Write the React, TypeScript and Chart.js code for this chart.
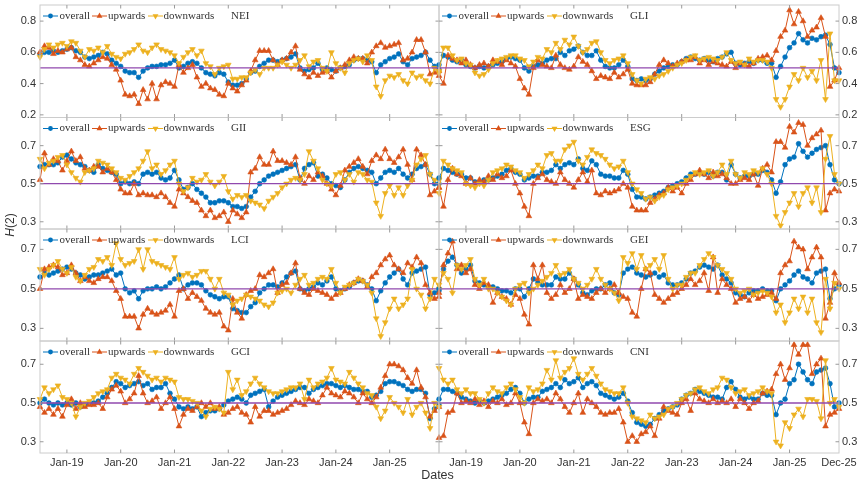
import React, { useEffect, useRef } from 'react';
import { Chart, registerables } from 'chart.js';

Chart.register(...registerables);

// ---------- categories (monthly, Jul-18 .. Dec-25) ----------
const MONTH_NAMES = ['Jan', 'Feb', 'Mar', 'Apr', 'May', 'Jun', 'Jul', 'Aug', 'Sep', 'Oct', 'Nov', 'Dec'];
const FIRST_YEAR = 2018;
const FIRST_MONTH = 6;
const N_MONTHS = 90;
const months: string[] = Array.from({ length: N_MONTHS }, (_, i) => {
  const k = FIRST_MONTH + i;
  return `${MONTH_NAMES[k % 12]}-${String(FIRST_YEAR + Math.floor(k / 12)).slice(2)}`;
});

const REF_LEVEL = 0.5;
const Y_TICKS_TOP = [0.2, 0.4, 0.6, 0.8];
const Y_TICKS_OTHER = [0.3, 0.5, 0.7];
const ROW_YMIN = [0.183, 0.262, 0.236, 0.242];
const ROW_YMAX = [0.903, 0.848, 0.803, 0.82];

// ---------- series ----------
const neiOverall = [0.59,0.60,0.60,0.61,0.60,0.61, 0.62,0.63,0.61,0.60,0.57,0.56, 0.57,0.58,0.60,0.59,0.55,0.53, 0.51,0.48,0.47,0.47,0.44,0.48, 0.50,0.51,0.51,0.52,0.52,0.53, 0.55,0.50,0.51,0.53,0.54,0.53, 0.50,0.47,0.46,0.45,0.47,0.46, 0.41,0.39,0.39,0.40,0.43,0.47, 0.48,0.51,0.53,0.55,0.55,0.54, 0.55,0.56,0.57,0.59,0.50,0.48, 0.49,0.50,0.53,0.49,0.50,0.49, 0.48,0.50,0.51,0.52,0.55,0.56, 0.56,0.55,0.54,0.47,0.52,0.54, 0.56,0.57,0.59,0.54,0.52,0.56, 0.57,0.58,0.60,0.55,0.51,0.49];
const neiUp = [0.60,0.64,0.63,0.59,0.61,0.60, 0.62,0.63,0.57,0.55,0.52,0.51, 0.53,0.55,0.57,0.56,0.52,0.49, 0.42,0.33,0.32,0.33,0.27,0.36, 0.30,0.40,0.30,0.39,0.41,0.40, 0.38,0.52,0.47,0.50,0.52,0.44, 0.38,0.40,0.37,0.36,0.33,0.32, 0.40,0.37,0.35,0.39,0.42,0.48, 0.55,0.61,0.61,0.61,0.55,0.52, 0.55,0.56,0.60,0.64,0.49,0.46, 0.44,0.47,0.45,0.47,0.48,0.44, 0.48,0.50,0.52,0.55,0.57,0.56, 0.56,0.53,0.60,0.64,0.66,0.63, 0.64,0.65,0.66,0.55,0.56,0.60, 0.68,0.68,0.60,0.46,0.47,0.48];
const neiDown = [0.57,0.62,0.65,0.63,0.65,0.66, 0.64,0.67,0.66,0.61,0.57,0.62, 0.61,0.63,0.60,0.64,0.59,0.57, 0.56,0.59,0.60,0.62,0.65,0.61, 0.60,0.63,0.65,0.62,0.61,0.60, 0.58,0.53,0.57,0.60,0.62,0.58, 0.61,0.53,0.51,0.46,0.50,0.51, 0.52,0.43,0.43,0.44,0.44,0.47, 0.49,0.46,0.50,0.50,0.50,0.52, 0.54,0.52,0.50,0.52,0.55,0.58, 0.51,0.54,0.55,0.50,0.48,0.60, 0.53,0.50,0.47,0.53,0.55,0.56, 0.54,0.58,0.55,0.38,0.32,0.42, 0.45,0.44,0.46,0.42,0.40,0.47, 0.44,0.45,0.42,0.40,0.50,0.48];

const gliOverall = [0.52,0.58,0.57,0.55,0.54,0.55, 0.52,0.51,0.50,0.51,0.50,0.51, 0.52,0.53,0.54,0.56,0.57,0.56, 0.55,0.50,0.48,0.51,0.52,0.53, 0.55,0.56,0.56,0.60,0.58,0.61, 0.62,0.64,0.60,0.58,0.58,0.61, 0.55,0.51,0.50,0.50,0.52,0.55, 0.51,0.43,0.42,0.43,0.42,0.43, 0.46,0.48,0.50,0.51,0.52,0.52, 0.54,0.56,0.57,0.56,0.55,0.56, 0.55,0.54,0.56,0.57,0.59,0.60, 0.53,0.52,0.53,0.54,0.53,0.55, 0.55,0.53,0.53,0.44,0.51,0.57, 0.63,0.66,0.72,0.68,0.66,0.69, 0.68,0.70,0.71,0.65,0.50,0.47];
const gliUp = [0.45,0.40,0.58,0.56,0.55,0.53, 0.55,0.52,0.50,0.52,0.53,0.51, 0.55,0.54,0.52,0.55,0.53,0.51, 0.43,0.37,0.33,0.50,0.55,0.52, 0.51,0.50,0.58,0.52,0.50,0.49, 0.51,0.57,0.54,0.52,0.48,0.43, 0.45,0.44,0.43,0.47,0.44,0.46, 0.49,0.40,0.39,0.39,0.39,0.41, 0.46,0.52,0.55,0.53,0.51,0.53, 0.54,0.55,0.55,0.57,0.53,0.55, 0.52,0.54,0.53,0.52,0.51,0.54, 0.50,0.53,0.52,0.51,0.53,0.56, 0.57,0.58,0.55,0.61,0.70,0.74, 0.87,0.78,0.86,0.80,0.70,0.74, 0.76,0.82,0.70,0.38,0.42,0.50];
const gliDown = [0.47,0.63,0.63,0.58,0.55,0.56, 0.53,0.52,0.47,0.45,0.46,0.49, 0.53,0.55,0.56,0.57,0.58,0.58, 0.56,0.55,0.51,0.54,0.57,0.56, 0.62,0.60,0.66,0.62,0.68,0.65, 0.70,0.64,0.60,0.62,0.66,0.67, 0.60,0.55,0.53,0.55,0.56,0.58, 0.53,0.46,0.42,0.40,0.43,0.44, 0.43,0.45,0.46,0.48,0.50,0.52, 0.53,0.55,0.57,0.58,0.55,0.56, 0.57,0.56,0.55,0.57,0.60,0.55, 0.53,0.54,0.52,0.56,0.54,0.55, 0.55,0.54,0.50,0.30,0.25,0.30, 0.38,0.46,0.42,0.50,0.44,0.48, 0.42,0.55,0.30,0.72,0.42,0.42];

const giiOverall = [0.59,0.60,0.60,0.60,0.61,0.64, 0.65,0.63,0.61,0.60,0.59,0.57, 0.56,0.60,0.58,0.57,0.56,0.55, 0.50,0.51,0.50,0.51,0.50,0.55, 0.56,0.55,0.56,0.53,0.52,0.53, 0.57,0.52,0.47,0.48,0.50,0.47, 0.45,0.43,0.40,0.40,0.41,0.41, 0.40,0.38,0.38,0.37,0.38,0.43, 0.46,0.50,0.52,0.54,0.55,0.56, 0.57,0.58,0.59,0.60,0.52,0.58, 0.60,0.61,0.54,0.55,0.53,0.50, 0.49,0.48,0.52,0.56,0.58,0.59, 0.58,0.57,0.56,0.50,0.53,0.56, 0.57,0.56,0.58,0.55,0.53,0.55, 0.58,0.59,0.60,0.55,0.50,0.50];
const giiUp = [0.52,0.66,0.60,0.63,0.62,0.57, 0.62,0.67,0.62,0.64,0.58,0.57, 0.59,0.59,0.56,0.58,0.56,0.52, 0.47,0.45,0.45,0.50,0.44,0.45, 0.44,0.44,0.43,0.45,0.43,0.40, 0.38,0.47,0.45,0.43,0.41,0.40, 0.36,0.33,0.36,0.32,0.33,0.35, 0.30,0.36,0.34,0.32,0.35,0.56, 0.58,0.64,0.60,0.60,0.67,0.62, 0.62,0.61,0.60,0.64,0.53,0.50, 0.54,0.52,0.56,0.54,0.50,0.47, 0.44,0.49,0.57,0.59,0.61,0.63, 0.59,0.55,0.62,0.65,0.63,0.68, 0.63,0.61,0.64,0.68,0.60,0.52, 0.68,0.65,0.60,0.44,0.46,0.48];
const giiDown = [0.63,0.58,0.61,0.62,0.64,0.65, 0.60,0.56,0.53,0.51,0.56,0.57, 0.58,0.62,0.61,0.60,0.58,0.56, 0.53,0.52,0.54,0.56,0.58,0.62, 0.67,0.58,0.60,0.55,0.57,0.60, 0.62,0.50,0.46,0.48,0.53,0.51, 0.52,0.55,0.51,0.49,0.51,0.54, 0.46,0.42,0.44,0.43,0.44,0.41, 0.40,0.39,0.37,0.41,0.43,0.45, 0.48,0.50,0.52,0.53,0.52,0.55, 0.67,0.62,0.58,0.52,0.50,0.49, 0.55,0.56,0.52,0.55,0.51,0.56, 0.55,0.52,0.51,0.40,0.33,0.45, 0.49,0.44,0.48,0.44,0.49,0.52, 0.60,0.63,0.65,0.55,0.52,0.52];

const esgOverall = [0.53,0.58,0.57,0.56,0.55,0.55, 0.53,0.53,0.51,0.51,0.52,0.52, 0.53,0.54,0.55,0.57,0.58,0.56, 0.55,0.52,0.53,0.54,0.54,0.56, 0.56,0.57,0.60,0.58,0.60,0.61, 0.60,0.63,0.58,0.57,0.62,0.60, 0.55,0.54,0.54,0.53,0.53,0.57, 0.55,0.47,0.43,0.43,0.42,0.43, 0.44,0.45,0.46,0.48,0.49,0.50, 0.51,0.53,0.55,0.55,0.56,0.55, 0.56,0.54,0.56,0.56,0.52,0.60, 0.55,0.53,0.54,0.54,0.55,0.55, 0.57,0.56,0.52,0.45,0.51,0.60, 0.63,0.64,0.71,0.67,0.64,0.66, 0.68,0.69,0.70,0.60,0.52,0.50];
const esgUp = [0.48,0.38,0.52,0.58,0.55,0.54, 0.50,0.53,0.50,0.52,0.51,0.54, 0.52,0.55,0.53,0.54,0.57,0.50, 0.45,0.38,0.33,0.50,0.53,0.55, 0.52,0.51,0.50,0.56,0.52,0.50, 0.48,0.52,0.56,0.51,0.57,0.45, 0.44,0.46,0.45,0.46,0.47,0.50, 0.48,0.38,0.36,0.36,0.36,0.40, 0.42,0.44,0.45,0.48,0.46,0.48, 0.45,0.50,0.52,0.55,0.57,0.55, 0.53,0.56,0.54,0.55,0.53,0.50, 0.50,0.52,0.53,0.52,0.55,0.49, 0.58,0.60,0.56,0.72,0.72,0.69, 0.80,0.77,0.82,0.81,0.70,0.74, 0.76,0.78,0.36,0.45,0.47,0.46];
const esgDown = [0.45,0.62,0.60,0.58,0.57,0.56, 0.50,0.49,0.48,0.50,0.49,0.52, 0.56,0.57,0.58,0.60,0.59,0.57, 0.56,0.53,0.55,0.57,0.60,0.58, 0.65,0.66,0.62,0.62,0.68,0.70, 0.72,0.62,0.60,0.64,0.68,0.66, 0.65,0.63,0.60,0.58,0.59,0.62, 0.56,0.50,0.47,0.45,0.42,0.43, 0.41,0.43,0.44,0.47,0.48,0.49, 0.50,0.52,0.54,0.56,0.55,0.56, 0.57,0.54,0.56,0.60,0.55,0.62, 0.55,0.53,0.56,0.55,0.57,0.56, 0.58,0.55,0.50,0.33,0.28,0.35, 0.40,0.45,0.38,0.45,0.48,0.40, 0.48,0.35,0.63,0.75,0.55,0.50];

const lciOverall = [0.56,0.58,0.57,0.58,0.59,0.60, 0.61,0.60,0.58,0.57,0.55,0.56, 0.57,0.57,0.58,0.59,0.60,0.57, 0.58,0.50,0.48,0.49,0.45,0.49, 0.50,0.50,0.51,0.50,0.51,0.53, 0.55,0.57,0.50,0.52,0.53,0.53, 0.52,0.49,0.47,0.46,0.45,0.46, 0.46,0.40,0.39,0.38,0.38,0.41, 0.43,0.48,0.50,0.52,0.52,0.51, 0.53,0.56,0.58,0.59,0.50,0.49, 0.50,0.51,0.53,0.52,0.54,0.56, 0.50,0.49,0.50,0.51,0.53,0.54, 0.54,0.52,0.50,0.44,0.49,0.53, 0.56,0.58,0.60,0.55,0.52,0.58, 0.59,0.60,0.61,0.47,0.48,0.49];
const lciUp = [0.50,0.60,0.61,0.62,0.61,0.57, 0.58,0.62,0.58,0.54,0.56,0.54, 0.53,0.55,0.56,0.56,0.54,0.49, 0.45,0.36,0.36,0.36,0.30,0.37, 0.40,0.38,0.37,0.38,0.39,0.42, 0.36,0.49,0.50,0.45,0.48,0.46, 0.44,0.40,0.38,0.37,0.38,0.31, 0.29,0.45,0.38,0.35,0.47,0.49, 0.50,0.57,0.56,0.58,0.60,0.48, 0.52,0.53,0.58,0.63,0.50,0.48, 0.47,0.50,0.49,0.48,0.47,0.45, 0.47,0.48,0.50,0.52,0.53,0.55, 0.54,0.51,0.56,0.58,0.62,0.65, 0.67,0.62,0.60,0.58,0.63,0.61, 0.66,0.63,0.52,0.48,0.45,0.46];
const lciDown = [0.60,0.57,0.60,0.62,0.64,0.60, 0.58,0.61,0.56,0.54,0.57,0.60, 0.61,0.65,0.64,0.66,0.62,0.73, 0.65,0.62,0.63,0.64,0.70,0.60, 0.70,0.64,0.63,0.62,0.61,0.60, 0.66,0.55,0.57,0.58,0.56,0.57, 0.59,0.59,0.55,0.50,0.55,0.48, 0.47,0.42,0.44,0.45,0.47,0.46, 0.45,0.44,0.42,0.41,0.43,0.48, 0.49,0.50,0.48,0.52,0.55,0.57, 0.52,0.53,0.55,0.56,0.55,0.60, 0.53,0.48,0.51,0.52,0.53,0.55, 0.54,0.52,0.48,0.35,0.26,0.33, 0.40,0.45,0.40,0.42,0.45,0.60, 0.50,0.47,0.40,0.45,0.55,0.50];

const geiOverall = [0.50,0.60,0.64,0.66,0.62,0.58, 0.60,0.62,0.54,0.53,0.52,0.51, 0.51,0.50,0.49,0.49,0.48,0.50, 0.50,0.46,0.50,0.55,0.53,0.52, 0.52,0.52,0.56,0.55,0.55,0.58, 0.55,0.52,0.48,0.47,0.49,0.50, 0.50,0.52,0.53,0.48,0.47,0.58, 0.60,0.61,0.58,0.57,0.56,0.57, 0.58,0.56,0.57,0.53,0.52,0.52, 0.53,0.55,0.58,0.59,0.61,0.62, 0.61,0.60,0.62,0.57,0.55,0.53, 0.48,0.47,0.46,0.48,0.49,0.49, 0.50,0.49,0.49,0.44,0.50,0.52, 0.54,0.57,0.59,0.56,0.55,0.53, 0.58,0.59,0.60,0.45,0.50,0.52];
const geiUp = [0.48,0.62,0.68,0.74,0.60,0.62, 0.58,0.60,0.52,0.50,0.53,0.52, 0.43,0.48,0.46,0.45,0.42,0.47, 0.45,0.37,0.32,0.62,0.55,0.62, 0.48,0.45,0.47,0.52,0.48,0.50, 0.55,0.45,0.47,0.46,0.45,0.48, 0.50,0.48,0.50,0.52,0.48,0.46, 0.45,0.38,0.36,0.50,0.60,0.58, 0.47,0.45,0.43,0.45,0.47,0.48, 0.50,0.52,0.55,0.52,0.54,0.58, 0.49,0.66,0.48,0.55,0.52,0.50, 0.43,0.45,0.46,0.44,0.47,0.45, 0.46,0.47,0.48,0.45,0.58,0.62, 0.64,0.74,0.71,0.70,0.60,0.66, 0.71,0.66,0.35,0.43,0.58,0.53];
const geiDown = [0.52,0.58,0.55,0.48,0.62,0.60, 0.62,0.65,0.55,0.52,0.55,0.50, 0.50,0.48,0.46,0.44,0.42,0.50, 0.52,0.53,0.48,0.50,0.52,0.54, 0.56,0.58,0.62,0.57,0.58,0.60, 0.55,0.53,0.50,0.52,0.55,0.60, 0.55,0.52,0.50,0.48,0.44,0.66, 0.63,0.68,0.60,0.67,0.60,0.62, 0.65,0.60,0.67,0.55,0.50,0.52, 0.52,0.56,0.58,0.58,0.62,0.65, 0.68,0.66,0.62,0.60,0.58,0.55, 0.50,0.48,0.49,0.50,0.47,0.48, 0.49,0.48,0.46,0.38,0.42,0.33, 0.38,0.45,0.40,0.46,0.38,0.45, 0.33,0.28,0.55,0.40,0.53,0.50];

const gciOverall = [0.50,0.52,0.50,0.49,0.50,0.49, 0.50,0.49,0.50,0.48,0.49,0.50, 0.50,0.51,0.53,0.55,0.58,0.61, 0.60,0.58,0.59,0.60,0.61,0.59, 0.60,0.57,0.58,0.58,0.60,0.55, 0.52,0.48,0.47,0.48,0.47,0.48, 0.43,0.45,0.46,0.46,0.47,0.49, 0.51,0.52,0.53,0.52,0.50,0.54, 0.55,0.56,0.57,0.48,0.51,0.53, 0.54,0.55,0.56,0.57,0.58,0.58, 0.55,0.57,0.58,0.59,0.60,0.60, 0.59,0.58,0.59,0.58,0.57,0.57, 0.56,0.56,0.53,0.54,0.56,0.60, 0.61,0.61,0.60,0.59,0.57,0.56, 0.57,0.57,0.55,0.42,0.47,0.49];
const gciUp = [0.48,0.45,0.47,0.44,0.47,0.43, 0.49,0.52,0.47,0.50,0.48,0.49, 0.49,0.50,0.47,0.53,0.57,0.59, 0.56,0.50,0.52,0.55,0.64,0.55, 0.50,0.51,0.53,0.47,0.50,0.53, 0.47,0.38,0.44,0.47,0.46,0.48, 0.50,0.48,0.50,0.47,0.48,0.44, 0.45,0.47,0.48,0.45,0.44,0.40, 0.48,0.43,0.46,0.46,0.44,0.45, 0.46,0.47,0.49,0.51,0.50,0.49, 0.52,0.51,0.50,0.54,0.58,0.55, 0.54,0.53,0.56,0.55,0.53,0.50, 0.55,0.52,0.50,0.53,0.58,0.64, 0.70,0.70,0.69,0.67,0.63,0.60, 0.67,0.58,0.53,0.43,0.46,0.48];
const gciDown = [0.52,0.58,0.55,0.57,0.59,0.53, 0.52,0.50,0.43,0.48,0.50,0.51, 0.53,0.55,0.56,0.57,0.63,0.65, 0.63,0.62,0.60,0.65,0.68,0.66, 0.64,0.62,0.63,0.61,0.63,0.62, 0.61,0.53,0.52,0.52,0.51,0.50, 0.46,0.43,0.47,0.48,0.47,0.45, 0.66,0.57,0.62,0.54,0.56,0.60, 0.63,0.60,0.58,0.56,0.55,0.55, 0.56,0.57,0.58,0.58,0.60,0.52, 0.62,0.58,0.60,0.61,0.63,0.68, 0.62,0.61,0.60,0.66,0.63,0.60, 0.58,0.55,0.54,0.48,0.42,0.46, 0.53,0.50,0.48,0.45,0.52,0.44, 0.48,0.50,0.45,0.37,0.50,0.48];

const cniOverall = [0.52,0.57,0.57,0.56,0.55,0.53, 0.52,0.51,0.50,0.51,0.50,0.51, 0.52,0.53,0.54,0.55,0.57,0.58, 0.55,0.50,0.52,0.53,0.53,0.56, 0.57,0.58,0.60,0.58,0.62,0.60, 0.61,0.63,0.58,0.60,0.61,0.59, 0.55,0.54,0.53,0.52,0.53,0.55, 0.51,0.45,0.40,0.39,0.38,0.39, 0.42,0.44,0.46,0.47,0.48,0.49, 0.52,0.54,0.55,0.57,0.56,0.55, 0.54,0.53,0.53,0.52,0.58,0.61, 0.57,0.53,0.52,0.53,0.52,0.52, 0.55,0.54,0.54,0.44,0.50,0.52, 0.60,0.62,0.70,0.66,0.62,0.60, 0.66,0.67,0.68,0.60,0.48,0.50];
const cniUp = [0.32,0.33,0.45,0.46,0.55,0.50, 0.51,0.50,0.52,0.49,0.51,0.48, 0.51,0.50,0.52,0.49,0.50,0.55, 0.50,0.40,0.34,0.50,0.52,0.51, 0.52,0.50,0.55,0.52,0.48,0.45, 0.50,0.55,0.45,0.52,0.50,0.48, 0.45,0.44,0.45,0.45,0.47,0.40, 0.30,0.33,0.30,0.34,0.35,0.38, 0.33,0.42,0.48,0.46,0.45,0.44, 0.50,0.52,0.46,0.55,0.52,0.51, 0.50,0.52,0.50,0.51,0.50,0.52, 0.48,0.52,0.50,0.47,0.50,0.51, 0.55,0.56,0.57,0.65,0.70,0.62, 0.68,0.80,0.75,0.80,0.80,0.65, 0.70,0.73,0.38,0.44,0.45,0.47];
const cniDown = [0.68,0.62,0.60,0.62,0.57,0.55, 0.57,0.55,0.55,0.52,0.50,0.55, 0.58,0.56,0.55,0.58,0.60,0.57, 0.53,0.50,0.58,0.56,0.57,0.60, 0.67,0.62,0.72,0.63,0.66,0.68, 0.73,0.65,0.62,0.65,0.68,0.64, 0.60,0.57,0.56,0.55,0.55,0.58, 0.50,0.43,0.42,0.41,0.40,0.44, 0.42,0.43,0.44,0.47,0.48,0.50, 0.52,0.54,0.55,0.57,0.58,0.56, 0.55,0.57,0.58,0.63,0.62,0.58, 0.55,0.56,0.57,0.54,0.55,0.56, 0.58,0.56,0.55,0.30,0.28,0.40, 0.37,0.44,0.47,0.43,0.52,0.52, 0.51,0.42,0.72,0.50,0.52,0.48];

// ---------- panels ----------
type PanelDef = { name: string; row: number; col: number; overall: number[]; up: number[]; down: number[] };
const PANELS: PanelDef[] = [
  { name: 'NEI', row: 0, col: 0, overall: neiOverall, up: neiUp, down: neiDown },
  { name: 'GLI', row: 0, col: 1, overall: gliOverall, up: gliUp, down: gliDown },
  { name: 'GII', row: 1, col: 0, overall: giiOverall, up: giiUp, down: giiDown },
  { name: 'ESG', row: 1, col: 1, overall: esgOverall, up: esgUp, down: esgDown },
  { name: 'LCI', row: 2, col: 0, overall: lciOverall, up: lciUp, down: lciDown },
  { name: 'GEI', row: 2, col: 1, overall: geiOverall, up: geiUp, down: geiDown },
  { name: 'GCI', row: 3, col: 0, overall: gciOverall, up: gciUp, down: gciDown },
  { name: 'CNI', row: 3, col: 1, overall: cniOverall, up: cniUp, down: cniDown },
];

// ---------- layout / style ----------
const W = 864;
const H = 487;
const COL_LEFT = [40, 439];
const COL_RIGHT = [439, 839];
const ROW_TOP = [5, 117.5, 229, 341];
const ROW_BOTTOM = [117.5, 229, 341, 453];

const C_OVERALL = '#0072BD';
const C_UP = '#D95319';
const C_DOWN = '#EDB120';
const C_REF = '#9049AE';
const C_TEXT = '#333333';
const SANS = '"Liberation Sans", Arial, Helvetica, sans-serif';
const SERIF = '"Liberation Serif", "Times New Roman", serif';

function drawMarker(ctx: CanvasRenderingContext2D, kind: string, x: number, y: number, r: number, color: string) {
  ctx.fillStyle = color;
  ctx.beginPath();
  if (kind === 'circle') {
    ctx.arc(x, y, r, 0, Math.PI * 2);
  } else if (kind === 'up') {
    ctx.moveTo(x, y - r);
    ctx.lineTo(x + r * 0.866, y + r * 0.5);
    ctx.lineTo(x - r * 0.866, y + r * 0.5);
  } else {
    ctx.moveTo(x, y + r);
    ctx.lineTo(x + r * 0.866, y - r * 0.5);
    ctx.lineTo(x - r * 0.866, y - r * 0.5);
  }
  ctx.closePath();
  ctx.fill();
}

const LEGEND_ITEMS = [
  { text: 'overall', color: C_OVERALL, kind: 'circle', r: 2.4, x0: 3, x1: 18, xm: 10.5, xt: 19.5 },
  { text: 'upwards', color: C_UP, kind: 'up', r: 3.4, x0: 52, x1: 67, xm: 59.5, xt: 68 },
  { text: 'downwards', color: C_DOWN, kind: 'down', r: 3.4, x0: 108, x1: 123, xm: 115.5, xt: 123.5 },
];

function makeDecor(p: PanelDef) {
  return {
    id: 'panelDecor',
    afterDatasetsDraw(chart: any) {
      const { ctx, chartArea: a, scales } = chart;
      const xs = scales.x;
      const ys = scales.y;
      const yTicks = p.row === 0 ? Y_TICKS_TOP : Y_TICKS_OTHER;
      ctx.save();

      // reference level
      const yr = ys.getPixelForValue(REF_LEVEL);
      ctx.strokeStyle = C_REF;
      ctx.lineWidth = 1.3;
      ctx.beginPath();
      ctx.moveTo(a.left, yr);
      ctx.lineTo(a.right, yr);
      ctx.stroke();

      // frame
      ctx.strokeStyle = '#cccccc';
      ctx.lineWidth = 1;
      ctx.strokeRect(a.left, a.top, a.right - a.left, a.bottom - a.top);

      // inward ticks
      const TL = 3.5;
      ctx.strokeStyle = '#9a9a9a';
      ctx.beginPath();
      months.forEach((m, i) => {
        if (m.startsWith('Jan')) {
          const px = xs.getPixelForValue(i);
          ctx.moveTo(px, a.bottom);
          ctx.lineTo(px, a.bottom - TL);
          ctx.moveTo(px, a.top);
          ctx.lineTo(px, a.top + TL);
        }
      });
      yTicks.forEach((v) => {
        const py = ys.getPixelForValue(v);
        ctx.moveTo(a.left, py);
        ctx.lineTo(a.left + TL, py);
        ctx.moveTo(a.right, py);
        ctx.lineTo(a.right - TL, py);
      });
      ctx.stroke();

      // y tick labels
      ctx.fillStyle = C_TEXT;
      ctx.font = `11px ${SANS}`;
      ctx.textBaseline = 'middle';
      yTicks.forEach((v) => {
        const py = ys.getPixelForValue(v);
        if (p.col === 0) {
          ctx.textAlign = 'right';
          ctx.fillText(v.toFixed(1), a.left - 4, py);
        } else {
          ctx.textAlign = 'left';
          ctx.fillText(v.toFixed(1), a.right + 3, py);
        }
      });

      // x tick labels on the bottom row
      if (p.row === 3) {
        ctx.textAlign = 'center';
        months.forEach((m, i) => {
          const last = i === months.length - 1;
          if (m.startsWith('Jan') || (last && p.col === 1)) {
            ctx.fillText(m, xs.getPixelForValue(i), a.bottom + 10);
          }
        });
      }

      // legend
      const ly = a.top + 11;
      ctx.font = `11px ${SERIF}`;
      ctx.textAlign = 'left';
      LEGEND_ITEMS.forEach((it) => {
        ctx.strokeStyle = it.color;
        ctx.lineWidth = 1;
        ctx.beginPath();
        ctx.moveTo(a.left + it.x0, ly);
        ctx.lineTo(a.left + it.x1, ly);
        ctx.stroke();
        drawMarker(ctx, it.kind, a.left + it.xm, ly, it.r, it.color);
        ctx.fillStyle = C_TEXT;
        ctx.fillText(it.text, a.left + it.xt, ly);
      });
      ctx.fillText(p.name, a.left + 191, ly);

      ctx.restore();
    },
  };
}

function series(label: string, data: number[], color: string, style: string, rotation: number, r: number) {
  return {
    label,
    data,
    borderColor: color,
    backgroundColor: color,
    borderWidth: 1,
    pointStyle: style,
    pointRotation: rotation,
    pointRadius: r,
    pointHoverRadius: r,
    pointBorderWidth: 0.6,
    pointBorderColor: color,
    pointBackgroundColor: color,
    tension: 0,
  };
}

function Panel({ p }: { p: PanelDef }) {
  const ref = useRef<HTMLCanvasElement>(null);
  useEffect(() => {
    const canvas = ref.current;
    if (!canvas) return;
    const left = COL_LEFT[p.col];
    const right = COL_RIGHT[p.col];
    const top = ROW_TOP[p.row];
    const bottom = ROW_BOTTOM[p.row];
    const chart = new Chart(canvas, {
      type: 'line',
      data: {
        labels: months,
        datasets: [
          series('downwards', p.down, C_DOWN, 'triangle', 180, 3.3),
          series('upwards', p.up, C_UP, 'triangle', 0, 3.3),
          series('overall', p.overall, C_OVERALL, 'circle', 0, 2.4),
        ] as any,
      },
      options: {
        responsive: false,
        animation: false,
        events: [],
        layout: { padding: { left, right: W - right, top, bottom: H - bottom } },
        scales: {
          x: { type: 'category', display: false, offset: false },
          y: { type: 'linear', display: false, min: ROW_YMIN[p.row], max: ROW_YMAX[p.row] },
        },
        plugins: { legend: { display: false }, tooltip: { enabled: false }, title: { display: false } },
      },
      plugins: [makeDecor(p)],
    });
    return () => chart.destroy();
  }, [p]);
  return (
    <canvas
      ref={ref}
      width={W}
      height={H}
      style={{ position: 'absolute', left: 0, top: 0, width: W, height: H }}
    />
  );
}

export default function App() {
  return (
    <div style={{ position: 'absolute', left: 0, top: 0, width: W, height: H, background: '#ffffff', overflow: 'hidden' }}>
      {PANELS.map((p) => (
        <Panel key={p.name} p={p} />
      ))}
      <div
        style={{
          position: 'absolute',
          left: -10,
          top: 218,
          width: 40,
          height: 14,
          lineHeight: '14px',
          textAlign: 'center',
          fontFamily: SANS,
          fontSize: 12,
          color: C_TEXT,
          transform: 'rotate(-90deg)',
        }}
      >
        <i>H</i>(2)
      </div>
      <div
        style={{
          position: 'absolute',
          left: 397.5,
          top: 467,
          width: 80,
          height: 16,
          lineHeight: '16px',
          textAlign: 'center',
          fontFamily: SANS,
          fontSize: 12.5,
          color: C_TEXT,
        }}
      >
        Dates
      </div>
    </div>
  );
}
